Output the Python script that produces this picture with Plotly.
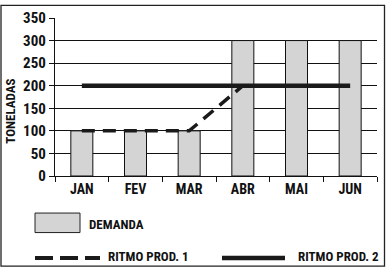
import plotly.graph_objects as go

months = ["JAN", "FEV", "MAR", "ABR", "MAI", "JUN"]
demanda = [100, 100, 100, 300, 300, 300]
ritmo1_x = ["JAN", "FEV", "MAR", "ABR"]
ritmo1 = [100, 100, 100, 200]
ritmo2_x = ["JAN", "JUN"]
ritmo2 = [200, 200]
y_ticks = [0, 50, 100, 150, 200, 250, 300, 350]

FONT = "Roboto Condensed, Liberation Sans Narrow, Roboto, sans-serif"
W, H = 386, 271
L, R, T, B = 55, 9, 14, 95
PW, PH = W - L - R, H - T - B

def px(x):
    return (x - L) / PW

def py(y):
    return (H - B - y) / PH

def f(size):
    return dict(size=size, color="#111", family=FONT, weight="bold")

fig = go.Figure()
fig.add_trace(go.Bar(x=months, y=demanda, marker=dict(color="#d4d4d4", line=dict(color="#111", width=1)),
                     width=0.41, showlegend=False))
fig.add_trace(go.Scatter(x=ritmo1_x, y=ritmo1, mode="lines",
                         line=dict(color="#1a1a1a", width=3.5, dash="13px,8px"), showlegend=False))
fig.add_trace(go.Scatter(x=ritmo2_x, y=ritmo2, mode="lines",
                         line=dict(color="#1a1a1a", width=4.5), showlegend=False))

shapes = [
    dict(type="rect", xref="paper", yref="paper", x0=px(1), x1=px(384.5), y0=py(1), y1=py(268.5),
         line=dict(color="#222", width=1.3), fillcolor="rgba(0,0,0,0)", layer="below"),
    dict(type="rect", xref="paper", yref="paper", x0=px(35), x1=px(80), y0=py(214), y1=py(234),
         line=dict(color="#222", width=1), fillcolor="#d4d4d4"),
    dict(type="line", xref="paper", yref="paper", x0=px(35), x1=px(100), y0=py(260), y1=py(260),
         line=dict(color="#1a1a1a", width=4, dash="18px,7px")),
    dict(type="line", xref="paper", yref="paper", x0=px(222), x1=px(285), y0=py(260), y1=py(260),
         line=dict(color="#1a1a1a", width=4.5)),
]
annots = [
    dict(text="DEMANDA", x=px(87), y=py(226), xref="paper", yref="paper", xanchor="left", yanchor="middle",
         showarrow=False, font=f(13)),
    dict(text="RITMO PROD. 1", x=px(106), y=py(259), xref="paper", yref="paper", xanchor="left", yanchor="middle",
         showarrow=False, font=f(13)),
    dict(text="RITMO PROD. 2", x=px(296), y=py(259), xref="paper", yref="paper", xanchor="left", yanchor="middle",
         showarrow=False, font=f(13)),
    dict(text="TONELADAS", x=px(11), y=py(110), xref="paper", yref="paper", xanchor="center", yanchor="middle",
         textangle=-90, showarrow=False, font=f(13)),
]

fig.update_layout(
    width=W, height=H, margin=dict(l=L, r=R, t=T, b=B),
    paper_bgcolor="white", plot_bgcolor="white",
    font=f(13),
    shapes=shapes, annotations=annots,
    bargap=0.6,
)
fig.update_xaxes(type="category", categoryorder="array", categoryarray=months,
                 showline=True, linecolor="#111", linewidth=1.3,
                 ticks="outside", tickson="boundaries", ticklen=5, tickcolor="#111",
                 showgrid=False, tickfont=f(14), range=[-0.5, 5.5])
fig.update_yaxes(range=[0, 350], tickvals=y_ticks, showline=True, linecolor="#111", linewidth=1.3,
                 ticks="outside", ticklen=5, tickcolor="#111",
                 showgrid=True, gridcolor="#111", gridwidth=1, zeroline=False,
                 tickfont=f(15))
fig.write_html("out.html")
